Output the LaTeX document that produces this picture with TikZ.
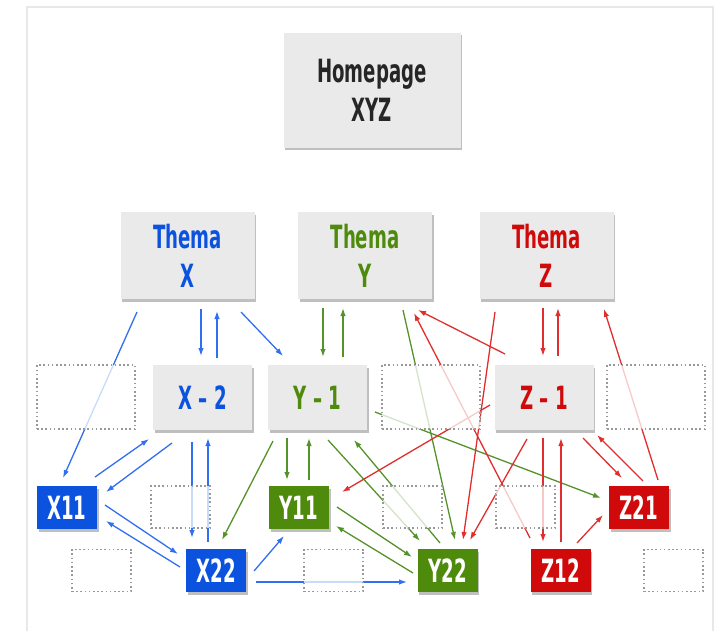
\documentclass[tikz,border=0pt]{standalone}
\usepackage{fontspec}
\newfontfamily\dinfont{DejaVu Sans Condensed}[FakeStretch=0.63]
\usetikzlibrary{arrows.meta,calc,shadows}
\definecolor{boxgray}{HTML}{EAEAEA}
\definecolor{xblue}{HTML}{0B53DE}
\definecolor{ygreen}{HTML}{4E8A0C}
\definecolor{zred}{HTML}{D00A0A}
\definecolor{xline}{HTML}{2F6FF0}
\definecolor{yline}{HTML}{56922A}
\definecolor{zline}{HTML}{E02E2E}

\begin{document}
\begin{tikzpicture}[x=1pt,y=-1pt,
  font=\dinfont\bfseries\fontsize{32}{39}\selectfont,
  page/.style={fill=boxgray,align=center,inner sep=0pt,
    drop shadow={shadow xshift=1.5pt,shadow yshift=-2.5pt,opacity=.5}},
  theme/.style={page,minimum width=134pt,minimum height=87pt},
  sub/.style={page,minimum width=99pt,minimum height=65pt},
  leaf/.style={page,minimum width=60pt,minimum height=43pt,text=white},
  spare/.style={draw=black!40,line width=1.6pt,dash pattern=on 1.6pt off 2.6pt,
    fill=white,fill opacity=.75,inner sep=0pt},
  link/.style={line width=1.3pt,-{Latex[length=8pt,width=5.5pt]}}]
\useasboundingbox (0,0) rectangle (717,631);
\draw[black!9,line width=2pt] (27,640) -- (27,7) -- (713,7) -- (713,640);

% pages
\node[page,minimum width=177pt,minimum height=115pt,text=black!85] (home) at (372,90.5) {Homepage\\XYZ};
\node[theme,text=xblue] (themaX) at (187.5,255.5) {Thema\\X};
\node[theme,text=ygreen] (themaY) at (365,255.5) {Thema\\Y};
\node[theme,text=zred] (themaZ) at (546.5,255.5) {Thema\\Z};
\node[sub,text=xblue] (x2) at (202.5,397.5) {X – 2};
\node[sub,text=ygreen] (y1) at (317.5,397.5) {Y – 1};
\node[sub,text=zred] (z1) at (544,397.5) {Z – 1};
\node[leaf,fill=xblue] (x11) at (67,507.5) {X11};
\node[leaf,fill=ygreen] (y11) at (299,507.5) {Y11};
\node[leaf,fill=zred] (z21) at (639,507.5) {Z21};
\node[leaf,fill=xblue] (x22) at (216,570.5) {X22};
\node[leaf,fill=ygreen] (y22) at (447.5,570.5) {Y22};
\node[leaf,fill=zred] (z12) at (560.5,570.5) {Z12};

% links X
\path[link,xline]
  ($(themaX)+(-50.5,56.5)$) edge ($(x11)+(-4,-29.5)$)
  ($(themaX)+(13.5,53.5)$) edge ($(x2)+(-1.5,-41.5)$)
  ($(x2)+(14.5,-39.5)$) edge ($(themaX)+(29.5,55.5)$)
  ($(themaX)+(53.5,56.5)$) edge ($(y1)+(-34.5,-41.5)$)
  ($(x2)+(-30.5,45.5)$) edge ($(x11)+(39,-15.5)$)
  ($(x11)+(28,-30.5)$) edge ($(x2)+(-53.5,41.5)$)
  ($(x2)+(-10.5,44.5)$) edge ($(x22)+(-24,-32.5)$)
  ($(x22)+(-8,-28.5)$) edge ($(x2)+(5.5,40.5)$)
  ($(x11)+(38,-2.5)$) edge ($(x22)+(-38,-16.5)$)
  ($(x22)+(-36,-3.5)$) edge ($(x11)+(39,13.5)$)
  ($(x22)+(38,0.5)$) edge ($(y11)+(-15,28.5)$)
  ($(x22)+(40,11.5)$) edge ($(y22)+(-40.5,11.5)$);

% links Y
\path[link,yline]
  ($(themaY)+(-42,52.5)$) edge ($(y1)+(5.5,-40.5)$)
  ($(y1)+(25.5,-40.5)$) edge ($(themaY)+(-22,52.5)$)
  ($(themaY)+(38,54.5)$) edge ($(y22)+(7.5,-30.5)$)
  ($(y1)+(-30.5,40.5)$) edge ($(y11)+(-12,-27.5)$)
  ($(y11)+(10,-27.5)$) edge ($(y1)+(-8.5,40.5)$)
  ($(y1)+(-44.5,43.5)$) edge ($(x22)+(6,-30.5)$)
  ($(y1)+(10.5,42.5)$) edge ($(y22)+(-27.5,-29.5)$)
  ($(y22)+(-7.5,-27.5)$) edge ($(y1)+(36.5,42.5)$)
  ($(y11)+(38,-0.5)$) edge ($(y22)+(-35.5,-13.5)$)
  ($(y22)+(-34.5,2.5)$) edge ($(y11)+(37,18.5)$)
  ($(y1)+(57.5,14.5)$) edge ($(z21)+(-38,-9.5)$);

% links Z
\path[link,zline]
  ($(themaZ)+(-3.5,52.5)$) edge ($(z1)+(-1,-41.5)$)
  ($(z1)+(14,-41.5)$) edge ($(themaZ)+(11.5,52.5)$)
  ($(z21)+(19,-27.5)$) edge ($(themaZ)+(57.5,53.5)$)
  ($(z1)+(39,40.5)$) edge ($(z21)+(-17,-29.5)$)
  ($(z21)+(4,-26.5)$) edge ($(z1)+(53,37.5)$)
  ($(z1)+(-1,40.5)$) edge ($(z12)+(-17.5,-28.5)$)
  ($(z12)+(0.5,-28.5)$) edge ($(z1)+(17,40.5)$)
  ($(z12)+(16.5,-27.5)$) edge ($(z21)+(-36,7.5)$)
  ($(z1)+(-39,-43.5)$) edge ($(themaY)+(53,54.5)$)
  ($(z12)+(-30.5,-32.5)$) edge ($(themaY)+(49,57.5)$)
  ($(z1)+(-54,7.5)$) edge ($(y11)+(43,-15.5)$)
  ($(z1)+(-17,41.5)$) edge ($(y22)+(22.5,-30.5)$)
  ($(themaZ)+(-51.5,56.5)$) edge ($(y22)+(15.5,-30.5)$);

% empty slots
\foreach \x in {86,431,656}
  \node[spare,minimum width=98pt,minimum height=64pt] (slot\x) at (\x,397) {};
\foreach \x in {180.5,412.5,525.5}
  \node[spare,minimum width=59pt,minimum height=42pt] (slot\x) at (\x,507) {};
\foreach \x in {101.5,333.5,673.5}
  \node[spare,minimum width=59pt,minimum height=42pt] (slot\x) at (\x,570.5) {};
\end{tikzpicture}
\end{document}
